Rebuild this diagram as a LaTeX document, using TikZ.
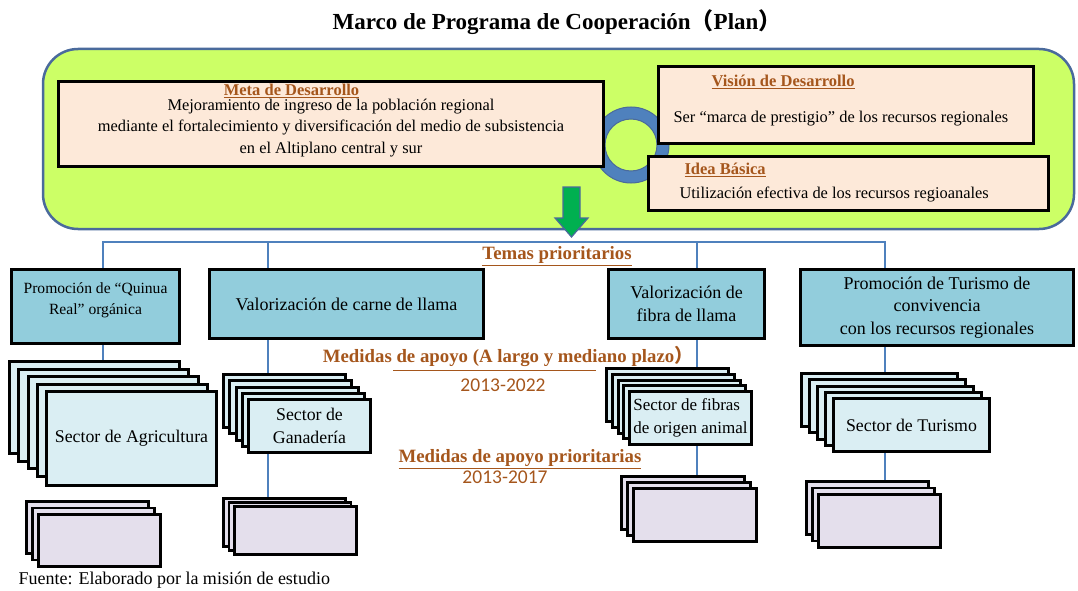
\documentclass[tikz,border=0pt]{standalone}
\usepackage{fontspec}
\setmainfont{Liberation Serif}
\newfontfamily\calib{Carlito}
\newfontfamily\cjk{Noto Sans CJK SC}
\usetikzlibrary{backgrounds}
\definecolor{lima}{HTML}{CCFF66}
\definecolor{marco}{HTML}{4A6A9C}
\definecolor{melocoton}{HTML}{FDE9D9}
\definecolor{celeste}{HTML}{92CDDC}
\definecolor{celestito}{HTML}{DAEEF3}
\definecolor{lila}{HTML}{E4DFEC}
\definecolor{cafe}{HTML}{A5561C}
\definecolor{azul}{HTML}{4F81BD}
\definecolor{verde}{HTML}{00B050}
\begin{document}
\begin{tikzpicture}[x=1pt,y=-1pt]
  \tikzstyle{box}=[draw=black, line width=3pt, inner sep=1pt]
  \tikzstyle{peach}=[box, fill=melocoton]
  \tikzstyle{tema}=[box, fill=celeste, align=center, font=\fontsize{18}{22.5}\selectfont]
  \tikzstyle{sector}=[box, fill=celestito, anchor=north west, align=center, font=\fontsize{17.8}{23}\selectfont]
  \tikzstyle{medida}=[box, fill=lila, anchor=north west, line width=2.6pt]
  \tikzstyle{link}=[azul, line width=1.6pt]
  \tikzstyle{head}=[cafe, font=\bfseries\fontsize{16.5}{19}\selectfont]
  \tikzstyle{bighead}=[cafe, font=\bfseries\fontsize{18.8}{22}\selectfont]
  \tikzstyle{txt}=[font=\fontsize{16.4}{21.5}\selectfont]
  \tikzstyle{anio}=[cafe, font=\calib\fontsize{19.5}{22}\selectfont]
  \useasboundingbox (0,0) rectangle (1078,591);

  \node[font=\bfseries\fontsize{23}{26}\selectfont] (titulo) at (557,22)
    {Marco de Programa de Cooperación{\cjk （}Plan{\cjk ）}};

  % marco del plan
  \node[draw=marco, line width=2.5pt, fill=lima, rounded corners=35pt,
        minimum width=1031pt, minimum height=180pt] (plan) at (558.5,139) {};
  \filldraw[fill=azul, draw=marco, line width=1pt, even odd rule]
    (631,145) circle (38pt) circle (26pt);
  \filldraw[fill=verde, draw=marco, line width=1.2pt]
    (563,187) -- (580,187) -- (580,218) -- (588,218) -- (571.5,237)
    -- (555,218) -- (563,218) -- cycle;

  \node[peach, minimum width=545pt, minimum height=85pt] (meta) at (331,124) {};
  \node[head] (metahead) at (291.5,91) {\underline{Meta de Desarrollo}};
  \node[txt, align=center] (metatxt) at (331,128)
    {Mejoramiento de ingreso de la población regional\\
     mediante el fortalecimiento y diversificación del medio de subsistencia\\
     en el Altiplano central y sur};

  \node[peach, minimum width=375pt, minimum height=77pt] (vision) at (846,105) {};
  \node[head, anchor=west] (visionhead) at (708,82) {\underline{Visión de Desarrollo}};
  \node[txt, anchor=west] (visiontxt) at (670,119)
    {Ser “marca de prestigio” de los recursos regionales};

  \node[peach, minimum width=400pt, minimum height=54pt] (idea) at (848.5,183.5) {};
  \node[head, anchor=west] (ideahead) at (681,170) {\underline{Idea Básica}};
  \node[txt, anchor=west] (ideatxt) at (676,194)
    {Utilización efectiva de los recursos regioanales};

  % temas prioritarios
  \node[bighead] (temas) at (557,256) {\underline{Temas prioritarios}};
  \node[tema, minimum width=168pt, minimum height=74pt] (quinua) at (95.5,306.5) {};
  \node[tema, draw=none, fill=none, font=\fontsize{15.6}{21}\selectfont] (quinuatxt)
    at (95.5,300) {Promoción de “Quinua\\Real” orgánica};
  \node[tema, minimum width=274pt, minimum height=69pt] (carne) at (346.5,304)
    {Valorización de carne de llama};
  \node[tema, minimum width=156pt, minimum height=69pt] (fibra) at (686.5,304)
    {Valorización de\\fibra de llama};
  \node[tema, minimum width=273pt, minimum height=76pt] (turismo) at (937,307.5)
    {Promoción de Turismo de\\convivencia\\con los recursos regionales};

  \node[bighead] (largo) at (508,356) {Medidas de apoyo (A largo y mediano plazo{\cjk ）}};
  \draw[cafe, line width=1pt] (393,370) -- (596,370);
  \node[anio] (anios1) at (503,385) {2013-2022};
  \node[bighead] (prior) at (520,459) {\underline{Medidas de apoyo prioritarias}};
  \node[anio] (anios2) at (505,477) {2013-2017};

  % sectores
  \foreach \i in {1,...,4}
    \node[sector, minimum width=170pt, minimum height=92pt] (agri-\i)
      at ({8+9.25*(\i-1)},{360+7.5*(\i-1)}) {};
  \node[sector, minimum width=170pt, minimum height=94pt] (agri-5) at (45,390)
    {Sector de Agricultura};
  \foreach \i in {1,...,4}
    \node[sector, minimum width=122pt, minimum height=53pt] (gana-\i)
      at ({222+6.25*(\i-1)},{373+6.25*(\i-1)}) {};
  \node[sector, minimum width=122pt, minimum height=53pt] (gana-5) at (247,398)
    {Sector de\\Ganadería};
  \foreach \i in {1,...,4}
    \node[sector, minimum width=122pt, minimum height=53pt] (fibras-\i)
      at ({605+5.75*(\i-1)},{367+5.75*(\i-1)}) {};
  \node[sector, minimum width=122pt, minimum height=53pt, align=left,
        font=\fontsize{17}{23}\selectfont] (fibras-5) at (628,390)
    {Sector de fibras\\de origen animal};
  \foreach \i in {1,...,4}
    \node[sector, minimum width=156pt, minimum height=53pt] (turs-\i)
      at ({800+8*(\i-1)},{372+6.25*(\i-1)}) {};
  \node[sector, minimum width=156pt, minimum height=53pt] (turs-5) at (832,397)
    {Sector de Turismo};

  % medidas prioritarias
  \foreach \i in {1,2,3}
    \node[medida, minimum width=122pt, minimum height=52pt] (agrilow-\i)
      at ({25+6*(\i-1)},{500+6.5*(\i-1)}) {};
  \foreach \i in {1,2,3}
    \node[medida, minimum width=122pt, minimum height=48pt] (ganalow-\i)
      at ({222+5.5*(\i-1)},{497+4*(\i-1)}) {};
  \foreach \i in {1,2,3}
    \node[medida, minimum width=123pt, minimum height=53pt] (fibralow-\i)
      at ({620+6*(\i-1)},{475+6*(\i-1)}) {};
  \foreach \i in {1,2,3}
    \node[medida, minimum width=122pt, minimum height=53pt] (turlow-\i)
      at ({805+6*(\i-1)},{480+6.5*(\i-1)}) {};

  \node[anchor=west, font=\fontsize{18}{20}\selectfont] (fuente) at (15,580)
    {Fuente:\hspace{6pt}Elaborado por la misión de estudio};

  % lineas
  \coordinate (t1) at (103,242);
  \coordinate (t2) at (268,242);
  \coordinate (t3) at (697,242);
  \coordinate (t4) at (885,242);
  \begin{scope}[on background layer]
    \draw[link] (t1 |- agri-1.north) -- (t1) -- (t4) -- (t4 |- turlow-1.north);
    \draw[link] (t2) -- (t2 |- ganalow-1.north);
    \draw[link] (t3) -- (t3 |- fibralow-1.north);
  \end{scope}
\end{tikzpicture}
\end{document}
